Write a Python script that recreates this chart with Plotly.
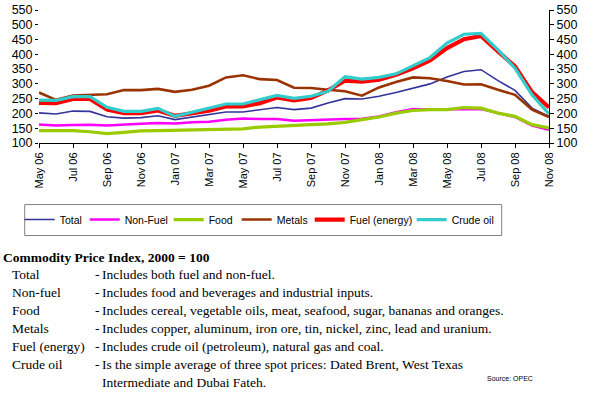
import plotly.graph_objects as go

months = ["May 06","Jun 06","Jul 06","Aug 06","Sep 06","Oct 06","Nov 06","Dec 06",
          "Jan 07","Feb 07","Mar 07","Apr 07","May 07","Jun 07","Jul 07","Aug 07",
          "Sep 07","Oct 07","Nov 07","Dec 07","Jan 08","Feb 08","Mar 08","Apr 08",
          "May 08","Jun 08","Jul 08","Aug 08","Sep 08","Oct 08","Nov 08"]
tick_labels = months[::2]

total    = [202,198,208,207,189,184,186,192,179,188,196,205,205,213,220,213,
            218,235,250,249,258,271,286,300,323,342,348,311,278,218,190]
non_fuel = [163,159,161,162,159,163,165,168,166,170,172,179,183,181,181,175,
            177,181,181,182,190,204,215,213,213,215,215,201,188,159,145]
food     = [142,143,142,138,132,136,141,142,143,145,146,146,148,154,156,160,
            162,165,170,179,188,201,210,213,213,220,218,201,190,162,151]
metals   = [271,246,261,264,265,279,279,283,273,280,294,322,329,316,313,287,
            286,280,275,260,288,306,322,319,310,298,299,280,263,213,188]
fuel     = [236,235,249,249,213,201,201,210,192,199,209,224,224,235,254,244,
            252,278,311,308,314,331,353,379,421,451,462,410,359,272,220]
crude    = [245,244,257,257,221,207,207,217,190,204,216,232,232,246,261,251,
            258,275,324,316,322,334,361,389,438,468,471,415,353,263,198]

series = [
    ("Total", total, "#333399", 1.6),
    ("Non-Fuel", non_fuel, "#FF00FF", 2.5),
    ("Food", food, "#99CC00", 3.2),
    ("Metals", metals, "#993300", 2.6),
    ("Fuel (energy)", fuel, "#FF0000", 4.2),
    ("Crude oil", crude, "#33CCCC", 3.2),
]

notes_title = "Commodity Price Index, 2000 = 100"
note_labels = ["Total", "Non-fuel", "Food", "Metals", "Fuel (energy)", "Crude oil"]
note_texts = [
    "Includes both fuel and non-fuel.",
    "Includes food and beverages and industrial inputs.",
    "Includes cereal, vegetable oils, meat, seafood, sugar, bananas and oranges.",
    "Includes copper, aluminum, iron ore, tin, nickel, zinc, lead and uranium.",
    "Includes crude oil (petroleum), natural gas and coal.",
    "Is the simple average of three spot prices: Dated Brent, West Texas",
]
note_extra = "Intermediate and Dubai Fateh."
source = "Source: OPEC"

# plot area geometry (pixels)
W, H = 600, 395
L, R, T, B = 39.3, 549.3, 10.0, 143.3

def px(x):
    return (x - L) / (R - L)

def py(y):
    return (B - y) / (B - T)

legend_text_x = [60, 125, 209, 277, 350, 452]

fig = go.Figure()
for k, (name, vals, col, w) in enumerate(series):
    lg = "legend" if k == 0 else f"legend{k+1}"
    fig.add_trace(go.Scatter(x=months, y=vals, name=name, mode="lines",
                             line=dict(color=col, width=w), legend=lg))
# invisible trace to carry the right-hand axis
fig.add_trace(go.Scatter(x=months, y=total, yaxis="y2", mode="lines",
                         line=dict(width=0, color="rgba(0,0,0,0)"),
                         showlegend=False, hoverinfo="skip"))

sans = "Arial, Liberation Sans, sans-serif"
serif = "Times New Roman, Liberation Serif, serif"

layout = dict(
    width=W, height=H,
    margin=dict(l=L, r=W - R, t=T, b=H - B, autoexpand=False),
    paper_bgcolor="white", plot_bgcolor="white",
    font=dict(family=sans, color="#000000"),
    xaxis=dict(type="category", range=[0, len(months) - 1],
               tickmode="array", tickvals=tick_labels, ticktext=tick_labels,
               tickangle=-90, tickfont=dict(size=11, family=sans),
               showline=True, linecolor="#000000", linewidth=1,
               ticks="outside", ticklen=4, tickcolor="#000000",
               showgrid=False, zeroline=False),
    yaxis=dict(range=[100, 550], dtick=50, tick0=100,
               tickfont=dict(size=12.5, family=sans),
               showline=False, ticks="outside", ticklen=3,
               tickcolor="#000000", showgrid=False, zeroline=False),
    yaxis2=dict(range=[100, 550], dtick=50, tick0=100, overlaying="y", side="right",
                tickfont=dict(size=12.5, family=sans),
                showline=True, linecolor="#000000", linewidth=1,
                ticks="outside", ticklen=4, tickcolor="#000000",
                showgrid=False, zeroline=False),
    shapes=[dict(type="rect", xref="paper", yref="paper",
                 x0=px(25), x1=px(502), y0=py(205), y1=py(236),
                 line=dict(color="#808080", width=1), fillcolor="rgba(0,0,0,0)")],
)

for k, tx in enumerate(legend_text_x):
    key = "legend" if k == 0 else f"legend{k+1}"
    layout[key] = dict(x=px(tx - 40), y=py(220), xanchor="left", yanchor="middle",
                       orientation="h", bgcolor="rgba(0,0,0,0)", borderwidth=0,
                       font=dict(size=10.5, family=sans, color="#000000"),
                       itemwidth=30)

fig.update_layout(**layout)

fs = 13.5
ann = []
ann.append(dict(text="<b>" + notes_title + "</b>", x=px(1), y=py(258),
                font=dict(family=serif, size=fs, color="#000000")))
row_y = [275, 293, 311, 329, 347, 365]
for lab, txt, yy in zip(note_labels, note_texts, row_y):
    ann.append(dict(text=lab, x=px(10), y=py(yy),
                    font=dict(family=serif, size=fs, color="#000000")))
    ann.append(dict(text="-", x=px(93), y=py(yy),
                    font=dict(family=serif, size=fs, color="#000000")))
    ann.append(dict(text=txt, x=px(100), y=py(yy),
                    font=dict(family=serif, size=fs, color="#000000")))
ann.append(dict(text=note_extra, x=px(100), y=py(383),
                font=dict(family=serif, size=fs, color="#000000")))
ann.append(dict(text=source, x=px(485), y=py(379),
                font=dict(family=sans, size=7, color="#000000")))
for a in ann:
    a.update(xref="paper", yref="paper", xanchor="left", yanchor="middle",
             showarrow=False)
fig.update_layout(annotations=ann)

fig.write_html("out.html",
               config={"displayModeBar": False},
               post_script="document.body.style.margin='0px';"
                           "document.body.style.padding='0px';")
